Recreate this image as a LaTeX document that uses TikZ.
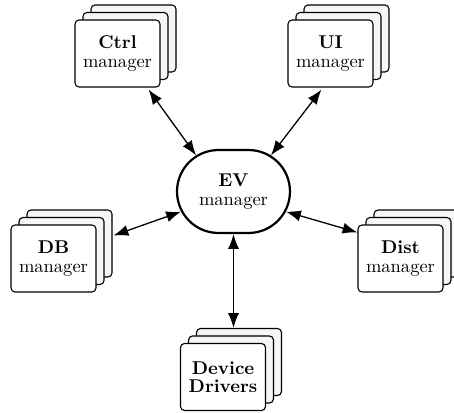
\documentclass[tikz,border=0pt]{standalone}
\usetikzlibrary{arrows.meta,shapes.misc,calc}

% a manager drawn as a stack of three cards: two shaded copies behind the front one
\newcommand\cardstack[3]{%
  \node[cardback] (#1c) at ($(#2)+(16,-15)$) {};
  \node[cardback] (#1b) at ($(#2)+(8,-7.5)$) {};
  \node[card] (#1) at (#2) {#3};
}

\begin{document}
\begin{tikzpicture}[x=0.54pt,y=-0.54pt,
  card/.style={draw, line width=0.6pt, rounded corners=2.2pt, fill=white,
    minimum width=45.9pt, minimum height=36.2pt, inner sep=0pt,
    align=center, font=\fontsize{10}{10}\selectfont},
  cardback/.style={card, fill=gray!7},
  core/.style={draw, rounded rectangle, line width=1.2pt, fill=white,
    minimum width=61pt, minimum height=44.8pt, inner sep=0pt,
    align=center, font=\fontsize{10}{10}\selectfont},
  link/.style={{Latex[length=8pt,width=6pt]}-{Latex[length=8pt,width=6pt]},
    line width=0.7pt}]
\useasboundingbox (0,0) rectangle (454,413);

% central event manager
\node[core] (ev) at (233.5,191.5) {\textbf{EV}\\manager};

% surrounding managers
\cardstack{ctrl}{117.5,53.5}{\textbf{Ctrl}\\manager}
\cardstack{ui}{330.5,53.5}{\textbf{UI}\\manager}
\cardstack{db}{53.5,258.5}{\textbf{DB}\\manager}
\cardstack{dist}{400.5,258.5}{\textbf{Dist}\\manager}
\cardstack{dd}{223,377}{\textbf{Device}\\\textbf{Drivers}}

% two-way links to the event manager
\draw[link] ($(ctrl.south east)+(-12,2)$) -- (ev.136);
\draw[link] ($(ui.south west)+(34,2)$) -- (ev.44);
\draw[link] ($(dbc.east)+(1,-8)$) -- (ev.201);
\draw[link] ($(dist.north west)+(0,8)$) -- (ev.339);
\draw[link] (ev.south) -- (ev.south |- ddc.north);
\end{tikzpicture}
\end{document}
